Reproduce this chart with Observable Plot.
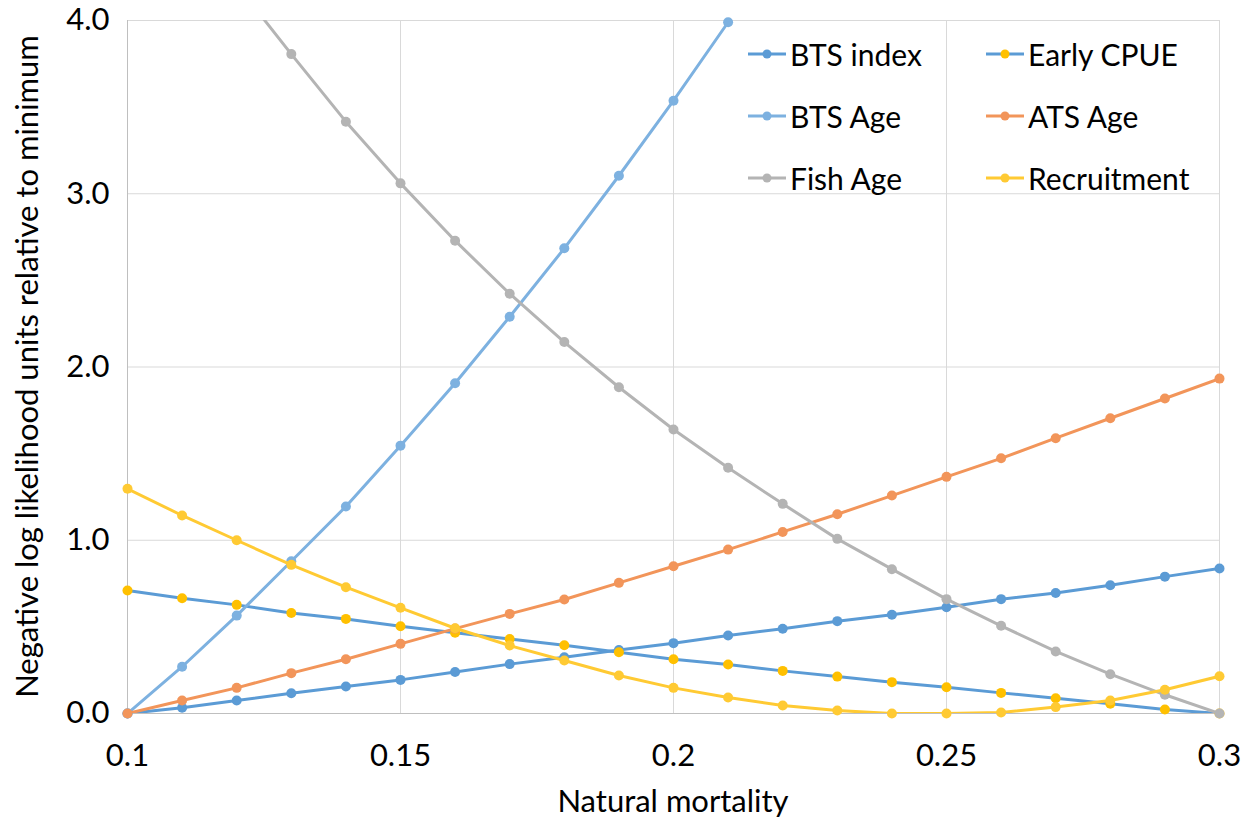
<!DOCTYPE html>
<html>
<head>
<meta charset="utf-8">
<script src="https://cdn.jsdelivr.net/npm/d3@7"></script>
<script src="https://cdn.jsdelivr.net/npm/@observablehq/plot@0.6"></script>
<style>
  html, body { margin: 0; padding: 0; background: #fff; }
  #wrap { position: relative; width: 1252px; height: 824px; font-family: Lato, "Liberation Sans", sans-serif; }
  #legend { position: absolute; left: 0; top: 0; width: 1252px; height: 220px; pointer-events: none; }
  .item { position: absolute; display: flex; align-items: center; height: 40px; font-size: 30px; color: #000; white-space: nowrap; }
  .item svg { margin-right: 4px; }
</style>
</head>
<body>
<div id="wrap"><div id="legend"></div></div>
<script>
// ---- Data ----
const mortality = [0.10, 0.11, 0.12, 0.13, 0.14, 0.15, 0.16, 0.17, 0.18, 0.19, 0.20,
                   0.21, 0.22, 0.23, 0.24, 0.25, 0.26, 0.27, 0.28, 0.29, 0.30];
const btsIndex    = [0, 0.033, 0.075, 0.117, 0.156, 0.194, 0.24, 0.285, 0.325, 0.367, 0.406,
                     0.45, 0.489, 0.533, 0.57, 0.613, 0.66, 0.696, 0.74, 0.79, 0.837];
const earlyCPUE   = [0.71, 0.665, 0.627, 0.58, 0.546, 0.504, 0.466, 0.43, 0.394, 0.354, 0.313,
                     0.283, 0.246, 0.213, 0.181, 0.152, 0.119, 0.088, 0.056, 0.023, 0];
const btsAge      = [0, 0.27, 0.565, 0.879, 1.195, 1.546, 1.906, 2.29, 2.685, 3.104, 3.537, 3.99];
const atsAge      = [0, 0.075, 0.148, 0.233, 0.313, 0.402, 0.49, 0.575, 0.658, 0.754, 0.85,
                     0.946, 1.048, 1.15, 1.258, 1.366, 1.473, 1.589, 1.704, 1.818, 1.933];
const fishAge     = [5.08, 4.64, 4.206, 3.806, 3.416, 3.06, 2.729, 2.423, 2.144, 1.883, 1.639,
                     1.418, 1.21, 1.008, 0.833, 0.66, 0.506, 0.358, 0.227, 0.108, 0];
const recruitment = [1.297, 1.143, 1.0, 0.858, 0.729, 0.61, 0.492, 0.392, 0.306, 0.219, 0.148,
                     0.092, 0.046, 0.017, 0, 0, 0.006, 0.037, 0.075, 0.137, 0.215];

const seriesNames = ["BTS index", "Early CPUE", "BTS Age", "ATS Age", "Fish Age", "Recruitment"];
const seriesValues = [btsIndex, earlyCPUE, btsAge, atsAge, fishAge, recruitment];
const lineColors   = ["#5B9BD5", "#5B9BD5", "#7DB1E0", "#F2955A", "#B4B4B4", "#FFCA33"];
const markerColors = ["#5B9BD5", "#FFC000", "#7DB1E0", "#F2955A", "#B4B4B4", "#FFCA33"];
const xTicks = [0.1, 0.15, 0.2, 0.25, 0.3];
const yTicks = [0, 1, 2, 3, 4];

// ---- Build marks ----
const marks = [
  Plot.gridX([0.15, 0.2, 0.25, 0.3], {stroke: "#d9d9d9", strokeOpacity: 1, strokeWidth: 1}),
  Plot.gridY([1, 2, 3, 4], {stroke: "#d9d9d9", strokeOpacity: 1, strokeWidth: 1}),
  Plot.ruleX([0.1], {stroke: "#bfbfbf", strokeWidth: 1}),
  Plot.ruleY([0], {stroke: "#bfbfbf", strokeWidth: 1})
];
seriesNames.forEach((name, i) => {
  const data = seriesValues[i].map((v, j) => ({x: mortality[j], y: v}));
  marks.push(Plot.line(data, {x: "x", y: "y", stroke: lineColors[i], strokeWidth: 3, clip: true}));
  marks.push(Plot.dot(data.filter(d => d.y <= 4.001), {x: "x", y: "y", r: 5, fill: markerColors[i], stroke: "none"}));
});
marks.push(
  Plot.axisX(xTicks, {tickSize: 0, tickPadding: 30, tickFormat: d => String(d), fontSize: 31, label: null}),
  Plot.axisY(yTicks, {tickSize: 0, tickPadding: 18, tickFormat: d3.format(".1f"), fontSize: 31, label: null})
);

const chart = Plot.plot({
  width: 1252,
  height: 824,
  marginLeft: 127,
  marginRight: 33,
  marginTop: 20,
  marginBottom: 111,
  style: {fontFamily: "Lato, 'Liberation Sans', sans-serif", color: "#000", background: "#fff"},
  x: {domain: [0.1, 0.3]},
  y: {domain: [0, 4]},
  marks
});

// Axis titles as SVG text appended within chart
const svgNS = "http://www.w3.org/2000/svg";
const xt = document.createElementNS(svgNS, "text");
xt.setAttribute("x", 127 + (1219 - 127) / 2);
xt.setAttribute("y", 804);
xt.setAttribute("text-anchor", "middle");
xt.setAttribute("dominant-baseline", "middle");
xt.setAttribute("font-size", "31");
xt.setAttribute("fill", "#000");
xt.textContent = "Natural mortality";
chart.appendChild(xt);
const yt = document.createElementNS(svgNS, "text");
yt.setAttribute("transform", "translate(30," + (20 + (713 - 20) / 2) + ") rotate(-90)");
yt.setAttribute("text-anchor", "middle");
yt.setAttribute("dominant-baseline", "middle");
yt.setAttribute("font-size", "31");
yt.setAttribute("fill", "#000");
yt.textContent = "Negative log likelihood units relative to minimum";
chart.appendChild(yt);

document.getElementById("wrap").insertBefore(chart, document.getElementById("legend"));
chart.style.position = "absolute";
chart.style.left = "0";
chart.style.top = "0";

// ---- Legend ----
const legend = document.getElementById("legend");
const colLeft = [748, 986];
const rowCenter = [56, 118, 180];
seriesNames.forEach((name, i) => {
  const col = i % 2, row = Math.floor(i / 2);
  const div = document.createElement("div");
  div.className = "item";
  div.style.left = colLeft[col] + "px";
  div.style.top = (rowCenter[row] - 22) + "px";
  div.innerHTML = `<svg width="38" height="12"><line x1="0" y1="6" x2="38" y2="6" stroke="${lineColors[i]}" stroke-width="3"/><circle cx="19" cy="6" r="4.5" fill="${markerColors[i]}"/></svg><span>${name}</span>`;
  legend.appendChild(div);
});
</script>
</body>
</html>
